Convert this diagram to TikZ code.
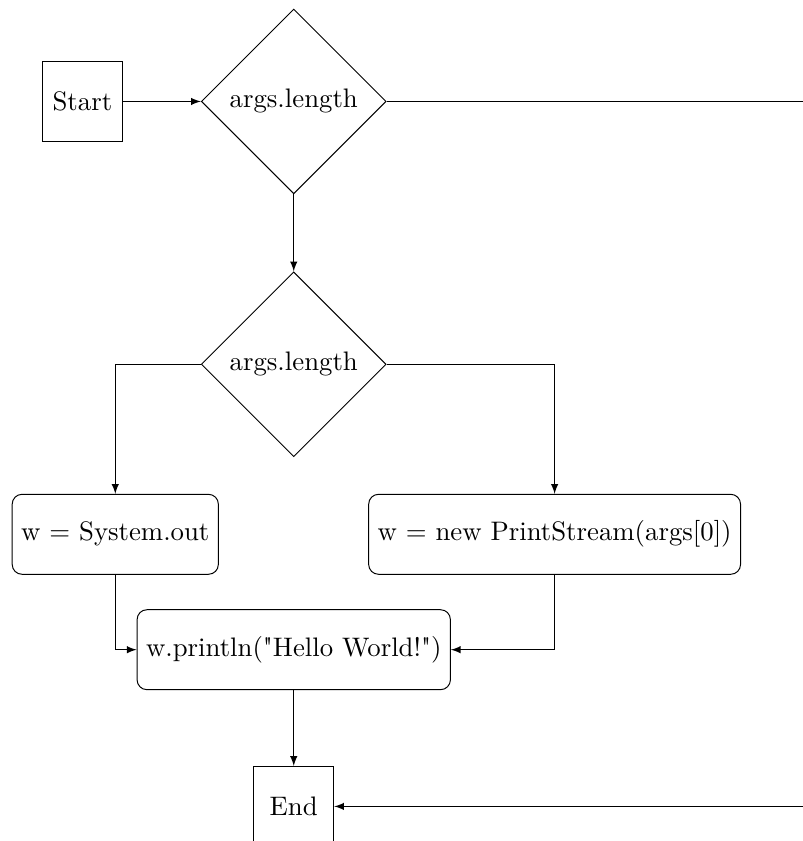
\documentclass[tikz,border=0pt,11pt]{standalone}
\usepackage{tikz}
\usetikzlibrary{shapes.geometric, arrows, positioning}

\begin{document}
\begin{tikzpicture}[>=latex,
        term/.style={rectangle, draw, minimum size=32.7pt},
        cond/.style={diamond, draw, aspect=1, inner sep=0pt, minimum width=75.6pt, minimum height=75.6pt},
        proc/.style={rectangle, draw, rounded corners, minimum height=32.7pt}
    ]
        \useasboundingbox (-33.7pt,41.5pt) rectangle (294.7pt,-302.5pt);
        % Nodes
        \node [term] (start) at (0,0) {Start};
        \node [cond, right=31.9pt of start] (len1) {args.length};
        \node [cond, below=31.5pt of len1] (len2) {args.length};
        \node [proc, below=15pt of len2, xshift=-73pt] (sysout) {w = System.out};
        \node [proc, below=15pt of len2, xshift=106.7pt] (stream) {w = new PrintStream(args[0])};
        \node [proc, below=62.2pt of len2] (hello) {w.println(\textquotedbl Hello World!\textquotedbl)};
        \node [term, below=31pt of hello] (end) {End};
        \coordinate [right=180pt of len1.east] (skip);

        % Connectors
        \draw[->] (start) -- (len1);
        \draw[->] (len1) -- (len2);
        \draw[->] (len2.west) -| (sysout.north);
        \draw[->] (len2.east) -| (stream.north);
        \draw[->] (sysout.south) |- (hello.west);
        \draw[->] (stream.south) |- (hello.east);
        \draw[->] (hello) -- (end);
        \draw[->] (len1.east) -- (skip) |- (end.east);
    \end{tikzpicture}
\end{document}
